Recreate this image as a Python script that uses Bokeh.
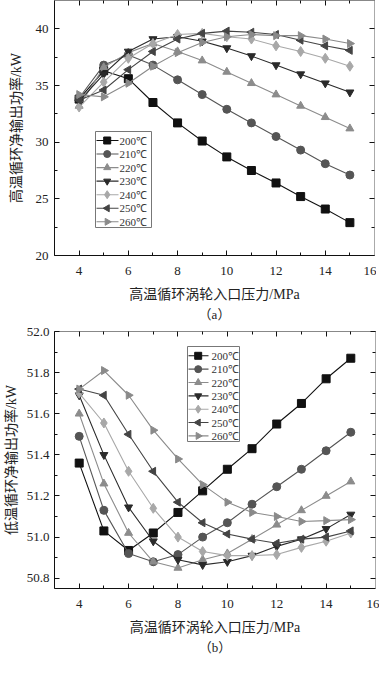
import math
from bokeh.plotting import figure
from bokeh.layouts import column
from bokeh.models import (FixedTicker, LinearAxis, Title, NumeralTickFormatter, Range1d)
from bokeh.core.properties import value
from bokeh.embed import file_html
from bokeh.resources import INLINE

# ---------------- data ----------------
pressure = [4, 5, 6, 7, 8, 9, 10, 11, 12, 13, 14, 15]
temps = ["200℃", "210℃", "220℃", "230℃", "240℃", "250℃", "260℃"]

# (a) high-temperature cycle net output power, kW
hi_200 = [33.8, 36.3, 35.6, 33.5, 31.7, 30.1, 28.7, 27.5, 26.4, 25.2, 24.1, 22.9]
hi_210 = [33.9, 36.8, 37.7, 36.8, 35.5, 34.2, 32.9, 31.7, 30.5, 29.3, 28.1, 27.1]
hi_220 = [33.2, 36.6, 37.9, 38.7, 38.0, 37.2, 36.2, 35.2, 34.2, 33.2, 32.2, 31.2]
hi_230 = [33.6, 36.0, 38.0, 39.1, 39.3, 38.9, 38.3, 37.6, 36.8, 36.0, 35.2, 34.4]
hi_240 = [33.1, 35.3, 37.4, 38.7, 39.5, 39.6, 39.3, 39.1, 38.5, 38.0, 37.4, 36.7]
hi_250 = [33.7, 34.6, 36.4, 38.0, 39.1, 39.6, 39.8, 39.7, 39.5, 39.0, 38.5, 38.1]
hi_260 = [34.2, 34.0, 35.2, 36.7, 37.9, 38.8, 39.3, 39.5, 39.4, 39.4, 39.1, 38.7]

# (b) low-temperature cycle net output power, kW
lo_200 = [51.36, 51.03, 50.935, 51.02, 51.12, 51.225, 51.33, 51.43, 51.55, 51.65, 51.77, 51.87]
lo_210 = [51.49, 51.13, 50.92, 50.88, 50.915, 51.0, 51.07, 51.16, 51.245, 51.33, 51.42, 51.51]
lo_220 = [51.60, 51.26, 51.02, 50.88, 50.85, 50.89, 50.92, 50.99, 51.06, 51.13, 51.20, 51.27]
lo_230 = [51.69, 51.40, 51.145, 50.98, 50.89, 50.865, 50.88, 50.91, 50.955, 50.99, 51.04, 51.11]
lo_240 = [51.70, 51.555, 51.32, 51.14, 51.0, 50.93, 50.91, 50.91, 50.915, 50.95, 50.98, 51.02]
lo_250 = [51.72, 51.69, 51.50, 51.32, 51.17, 51.07, 51.015, 50.99, 50.97, 50.99, 51.0, 51.03]
lo_260 = [51.72, 51.81, 51.69, 51.52, 51.38, 51.255, 51.17, 51.12, 51.10, 51.076, 51.08, 51.085]

x_major = [4, 6, 8, 10, 12, 14, 16]
x_minor = [5, 7, 9, 11, 13, 15]
hi_major = [20, 25, 30, 35, 40]
hi_minor = [22.5, 27.5, 32.5, 37.5]
lo_major = [50.8, 51.0, 51.2, 51.4, 51.6, 51.8, 52.0]
lo_minor = [50.9, 51.1, 51.3, 51.5, 51.7, 51.9]

xlabel = "高温循环涡轮入口压力/MPa"
ylabel_a = "高温循环净输出功率/kW"
ylabel_b = "低温循环净输出功率/kW"

# ---------------- styles ----------------
colors = ["#111111", "#555555", "#8c8c8c", "#2a2a2a", "#a8a8a8", "#444444", "#8a8a8a"]
markers = ["square", "circle", "triangle", "inverted_triangle", "diamond", "triangle", "triangle"]
angles = [0, 0, 0, 0, 0, math.pi / 2, -math.pi / 2]
sizes = [8, 8, 8, 8, 10, 8, 8]
leg_sizes = [7, 7, 7, 7, 8, 7, 7]

SERIF = "Liberation Serif"
LBL = "Liberation Serif, Noto Sans CJK SC"


def style_axis(ax, ticks, label_visible=True):
    ax.major_tick_in = 5
    ax.major_tick_out = 0
    ax.minor_tick_in = 3
    ax.minor_tick_out = 0
    ax.axis_line_color = "#111111"
    ax.major_tick_line_color = "#111111"
    ax.minor_tick_line_color = "#111111"
    ax.major_label_text_font = SERIF
    ax.major_label_text_color = "#222222"
    ax.axis_label_text_font = LBL
    ax.axis_label_text_font_size = "14px"
    ax.axis_label_text_font_style = "normal"
    ax.axis_label_text_color = "#222222"
    if label_visible:
        ax.major_label_text_font_size = "13px"
        ax.major_label_standoff = 7
    else:
        ax.major_label_text_font_size = "0px"
        ax.major_label_standoff = 0
        ax.major_label_overrides = {t: "" for t in ticks}


def make_panel(series, y_range, y_major, y_minor, ylabel, caption,
               fw, fh, mb_left, mb_right, mb_top, legend_px, fmt, ylab_standoff, ytick_standoff,
               xtick_standoff, xlab_standoff):
    xr = (3, 16)
    p = figure(frame_width=fw, frame_height=fh, output_backend="svg", toolbar_location=None,
               x_range=Range1d(*xr), y_range=Range1d(*y_range),
               min_border_left=mb_left, min_border_right=mb_right,
               min_border_top=mb_top, min_border_bottom=10)
    p.xgrid.visible = False
    p.ygrid.visible = False
    p.outline_line_color = "#888888"
    p.background_fill_color = "white"
    p.border_fill_color = "white"

    p.xaxis.ticker = FixedTicker(ticks=x_major, minor_ticks=x_minor)
    p.yaxis.ticker = FixedTicker(ticks=y_major, minor_ticks=y_minor)
    if fmt:
        p.yaxis.formatter = NumeralTickFormatter(format=fmt)
    p.xaxis.axis_label = xlabel
    p.yaxis.axis_label = ylabel
    for ax in p.xaxis:
        style_axis(ax, x_major)
        ax.major_label_standoff = xtick_standoff
        ax.axis_label_standoff = xlab_standoff
    for ax in p.yaxis:
        style_axis(ax, y_major)
        ax.major_label_standoff = ytick_standoff
        ax.axis_label_standoff = ylab_standoff

    top_ax = LinearAxis(ticker=FixedTicker(ticks=x_major, minor_ticks=x_minor))
    right_ax = LinearAxis(ticker=FixedTicker(ticks=y_major, minor_ticks=y_minor))
    style_axis(top_ax, x_major, False)
    style_axis(right_ax, y_major, False)
    top_ax.axis_line_color = "#888888"
    right_ax.axis_line_color = "#aaaaaa"
    p.add_layout(top_ax, "above")
    p.add_layout(right_ax, "right")

    for i, ys in enumerate(series):
        p.line(pressure, ys, line_color=colors[i], line_width=1.1)
        p.scatter(pressure, ys, marker=markers[i], size=sizes[i], angle=angles[i],
                  fill_color=colors[i], line_color=colors[i])

    # ---- legend box, placed in screen pixels relative to the frame ----
    sx = fw / (xr[1] - xr[0])
    sy = fh / (y_range[1] - y_range[0])

    def X(px):
        return xr[0] + px / sx

    def Y(py):
        return y_range[1] - py / sy

    bl, bt, bw, bh, row0, step, l0, l1, mk, tx = legend_px
    p.quad(left=X(bl), right=X(bl + bw), top=Y(bt), bottom=Y(bt + bh),
           fill_color="white", line_color="#777777", line_width=1)
    n = len(temps)
    ry = [Y(row0 + step * i) for i in range(n)]
    p.segment(x0=[X(l0)] * n, x1=[X(l1)] * n, y0=ry, y1=ry,
              line_color=colors, line_width=1.1)
    for i in range(n):
        p.scatter([X(mk)], [ry[i]], marker=markers[i], size=leg_sizes[i], angle=angles[i],
                  fill_color=colors[i], line_color=colors[i])
    p.text(x=[X(tx)] * n, y=ry, text=temps, text_font=value(SERIF),
           text_font_size=value("11px"), text_baseline="middle", text_align="left",
           text_color="#333333")

    cap = Title(text=caption, align="center", text_font=LBL, text_font_size="13px",
                text_font_style="normal", text_color="#222222", standoff=0)
    p.add_layout(cap, "below")
    return p


# legend: box left, box top, box width, box height, first row, row step,
#         line start, line end, marker x, text x   (pixels from frame top-left)
pa = make_panel([hi_200, hi_210, hi_220, hi_230, hi_240, hi_250, hi_260],
                (20, 42.5), hi_major, hi_minor, ylabel_a, "（a）",
                320, 255, 50, 6, 0,
                (41, 131, 56, 96, 140, 13.55, 42, 64, 52.7, 65), None, 9, 6, 11, 9)
pb = make_panel([lo_200, lo_210, lo_220, lo_230, lo_240, lo_250, lo_260],
                (50.75, 52.0), lo_major, lo_minor, ylabel_b, "（b）",
                321, 257, 51, 4, 10,
                (133, 15, 52, 95, 24.3, 13.35, 134, 154, 143.7, 157), "0.0", 5, 5, 11, 9)

layout = column(pa, pb, spacing=0)
open("out.html", "w").write(file_html(layout, INLINE))
